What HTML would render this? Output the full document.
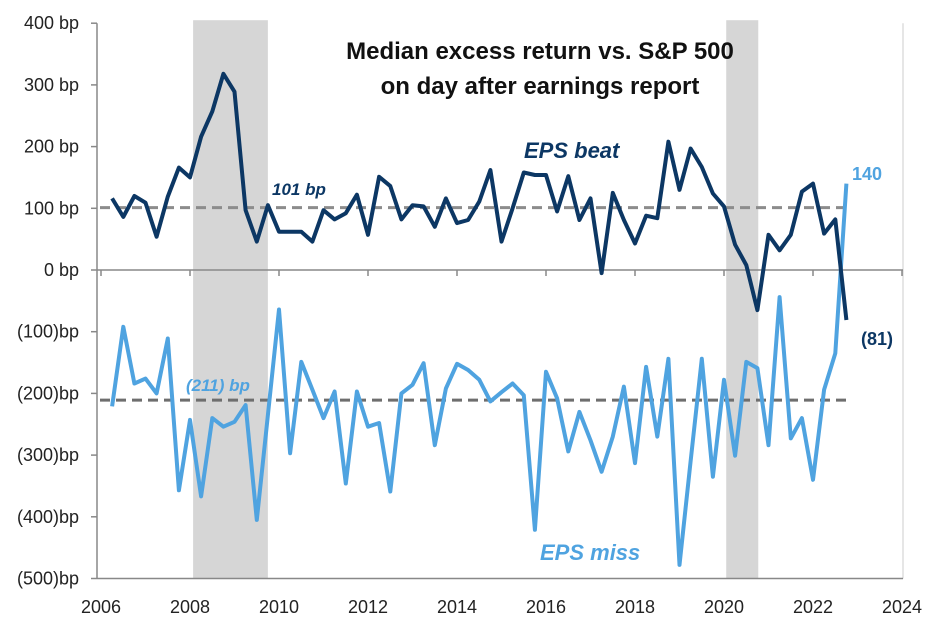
<!DOCTYPE html>
<html><head><meta charset="utf-8"><style>
body{margin:0;background:#fff;}
svg{display:block;font-family:"Liberation Sans",Arial,sans-serif;}
</style></head><body>
<svg id="chart" width="939" height="631" viewBox="0 0 939 631" xmlns="http://www.w3.org/2000/svg"></svg>
<script>
const yTicks=[400,300,200,100,0,-100,-200,-300,-400,-500];
const yTickLabels=["400 bp","300 bp","200 bp","100 bp","0 bp","(100)bp","(200)bp","(300)bp","(400)bp","(500)bp"];
const xTicks=[2006,2008,2010,2012,2014,2016,2018,2020,2022,2024];
const startYear=2006.25;
const beatValues=[116,86,120,109,54,119,166,150,216,257,318,289,97,46,105,62,62,62,46,97,82,92,122,57,151,136,82,105,103,70,116,76,81,111,162,46,100,158,154,154,95,152,81,116,-5,125,81,43,88,84,208,130,197,167,124,103,41,8,-65,57,32,57,127,140,59,82,-81];
const missValues=[-221,-92,-184,-176,-200,-111,-357,-243,-367,-240,-254,-246,-219,-405,-235,-64,-297,-149,-194,-240,-197,-346,-197,-254,-248,-359,-200,-186,-151,-284,-192,-152,-162,-178,-213,-198,-184,-203,-421,-165,-208,-294,-230,-276,-327,-270,-189,-313,-157,-270,-144,-478,-310,-144,-335,-178,-301,-149,-159,-284,-44,-273,-240,-340,-194,-135,140];
const recessions=[[2008.07,2009.75],[2020.05,2020.77]];
const beatAvg=101, missAvg=-211;

const svg=document.getElementById('chart');
const NS="http://www.w3.org/2000/svg";
const X=y=>101+44.5*(y-2006);
const Y=v=>270-0.617*v;
function mk(tag,attrs,parent){const e=document.createElementNS(NS,tag);for(const k in attrs)e.setAttribute(k,attrs[k]);(parent||svg).appendChild(e);return e;}

recessions.forEach((r,i)=>{
  const e=mk('rect',{x:X(r[0]),y:Y(400)-3,width:X(r[1])-X(r[0]),height:Y(-500)-Y(400)+3,fill:'#d6d6d6'});
  
  
});
let a=mk('line',{x1:97,y1:Y(400),x2:97,y2:Y(-500),stroke:'#888','stroke-width':1.5});


a=mk('line',{x1:903,y1:Y(400),x2:903,y2:Y(-500),stroke:'#ccc','stroke-width':1});


a=mk('line',{x1:97,y1:Y(-500),x2:903,y2:Y(-500),stroke:'#888','stroke-width':1.5});


a=mk('line',{x1:97,y1:Y(0),x2:903,y2:Y(0),stroke:'#888','stroke-width':1.5});


yTicks.forEach((v,i)=>{
  const t=mk('line',{x1:91,y1:Y(v),x2:97,y2:Y(v),stroke:'#888','stroke-width':1.5});
  
  
  const l=mk('text',{x:79,y:Y(v)+6,'text-anchor':'end','font-size':18,fill:'#222'});
  l.textContent=yTickLabels[i];
  
  
});
xTicks.forEach(yr=>{
  const t=mk('line',{x1:X(yr),y1:Y(0),x2:X(yr),y2:Y(0)+6,stroke:'#888','stroke-width':1.5});
  
  
  const l=mk('text',{x:X(yr),y:613,'text-anchor':'middle','font-size':18,fill:'#222'});
  l.textContent=yr;
  
  
});
let d=mk('line',{x1:100,y1:Y(beatAvg),x2:850,y2:Y(beatAvg),stroke:'#8c8c8c','stroke-width':3,'stroke-dasharray':'10,6'});


d=mk('line',{x1:100,y1:Y(missAvg),x2:850,y2:Y(missAvg),stroke:'#6e6e6e','stroke-width':3,'stroke-dasharray':'10,6'});


function series(vals,color,name){
  const pts=vals.map((v,i)=>X(startYear+i*0.25).toFixed(1)+','+Y(v).toFixed(1)).join(' ');
  const p=mk('polyline',{points:pts,fill:'none',stroke:color,'stroke-width':4,'stroke-linejoin':'round'});
  
  
}
series(missValues,'#4fa3e0','eps-miss-line');
series(beatValues,'#0c3764','eps-beat-line');
function txt(s,x,y,size,color,extra,name){
  const t=mk('text',Object.assign({x:x,y:y,'font-size':size,fill:color,'font-weight':'bold'},extra||{}));
  t.textContent=s;
  
  
}
txt('Median excess return vs. S&P 500',540,59,24,'#111',{'text-anchor':'middle'},'chart-title-line1');
txt('on day after earnings report',540,94,24,'#111',{'text-anchor':'middle'},'chart-title-line2');
txt('EPS beat',524,158,22,'#0c3764',{'font-style':'italic'},'eps-beat-label');
txt('EPS miss',540,560,22,'#4fa3e0',{'font-style':'italic'},'eps-miss-label');
txt('101 bp',272,195,17,'#0c3764',{'font-style':'italic'},'beat-average-label');
txt('(211) bp',186,391,17,'#4fa3e0',{'font-style':'italic'},'miss-average-label');
txt('140',852,180,18,'#4fa3e0',{},'last-miss-value');
txt('(81)',861,345,18,'#0c3764',{},'last-beat-value');
</script>
</body></html>
